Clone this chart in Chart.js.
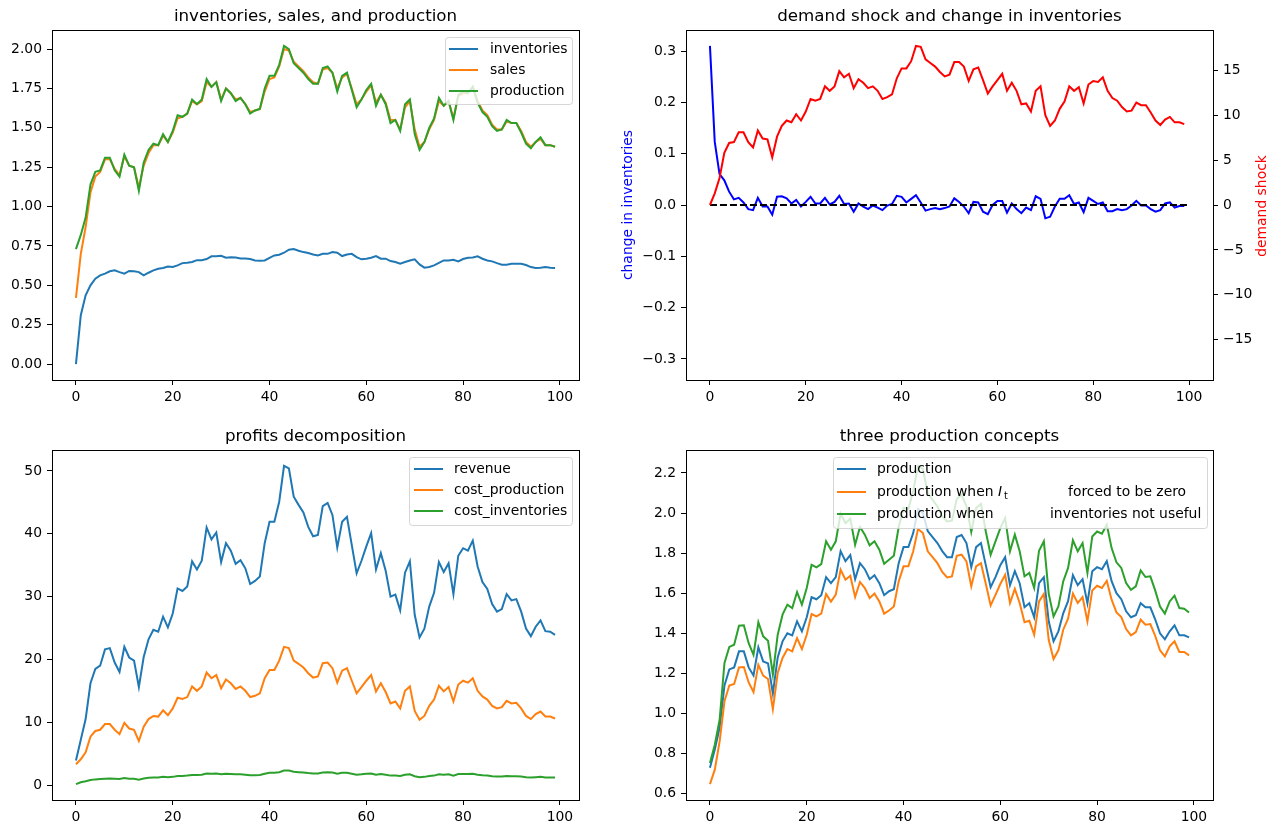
<!DOCTYPE html>
<html>
<head>
<meta charset="utf-8">
<script src="https://cdn.jsdelivr.net/npm/chart.js@4.4.1/dist/chart.umd.min.js"></script>
<style>
html, body { margin: 0; padding: 0; background: #fff; }
#wrap { position: relative; width: 1281px; height: 834px; overflow: hidden; }
.panel { position: absolute; }
</style>
</head>
<body>
<div id="wrap">
  <div class="panel" style="left:0;top:0;width:640px;height:420px"><canvas id="c1"></canvas></div>
  <div class="panel" style="left:600px;top:0;width:681px;height:420px"><canvas id="c2"></canvas></div>
  <div class="panel" style="left:0;top:420px;width:640px;height:414px"><canvas id="c3"></canvas></div>
  <div class="panel" style="left:600px;top:420px;width:681px;height:414px"><canvas id="c4"></canvas></div>
</div>
<script>
// time periods 0..99
const periods = Array.from({ length: 100 }, (_, i) => i);

const inventories = [
  0, 0.31, 0.437, 0.50, 0.542, 0.563, 0.574, 0.589, 0.595, 0.584,
  0.574, 0.591, 0.589, 0.584, 0.563, 0.58, 0.595, 0.605, 0.61, 0.62,
  0.616, 0.627, 0.641, 0.643, 0.648, 0.66, 0.66, 0.667, 0.684, 0.684,
  0.688, 0.675, 0.679, 0.677, 0.671, 0.671, 0.667, 0.658, 0.656, 0.658,
  0.675, 0.69, 0.694, 0.707, 0.726, 0.73, 0.72, 0.711, 0.705, 0.696,
  0.69, 0.70, 0.70, 0.711, 0.707, 0.686, 0.696, 0.70, 0.679, 0.665,
  0.669, 0.675, 0.686, 0.669, 0.669, 0.654, 0.648, 0.637, 0.648, 0.658,
  0.665, 0.633, 0.612, 0.616, 0.627, 0.643, 0.658, 0.658, 0.662, 0.652,
  0.667, 0.675, 0.677, 0.684, 0.669, 0.658, 0.652, 0.641, 0.631, 0.631,
  0.637, 0.637, 0.637, 0.629, 0.616, 0.61, 0.612, 0.616, 0.612, 0.61
];
const sales = [
  0.42, 0.70, 0.87, 1.09, 1.19, 1.22, 1.30, 1.30, 1.24, 1.20,
  1.32, 1.26, 1.25, 1.12, 1.26, 1.34, 1.39, 1.39, 1.45, 1.41,
  1.47, 1.56, 1.57, 1.59, 1.67, 1.65, 1.67, 1.79, 1.76, 1.79,
  1.68, 1.75, 1.72, 1.68, 1.69, 1.65, 1.60, 1.61, 1.62, 1.73,
  1.81, 1.82, 1.89, 2.00, 1.99, 1.92, 1.89, 1.86, 1.82, 1.79,
  1.78, 1.87, 1.88, 1.85, 1.75, 1.82, 1.84, 1.75, 1.65, 1.68,
  1.73, 1.77, 1.66, 1.71, 1.66, 1.55, 1.55, 1.49, 1.63, 1.67,
  1.49, 1.38, 1.41, 1.49, 1.55, 1.67, 1.64, 1.67, 1.56, 1.70,
  1.72, 1.72, 1.76, 1.67, 1.61, 1.58, 1.52, 1.49, 1.49, 1.54,
  1.53, 1.53, 1.48, 1.41, 1.38, 1.41, 1.43, 1.39, 1.39, 1.38
];
const production = [
  0.73, 0.82, 0.93, 1.14, 1.22, 1.23, 1.31, 1.31, 1.23, 1.19,
  1.33, 1.26, 1.25, 1.10, 1.28, 1.36, 1.40, 1.39, 1.46, 1.41,
  1.48, 1.58, 1.57, 1.59, 1.68, 1.65, 1.68, 1.81, 1.76, 1.79,
  1.67, 1.75, 1.72, 1.67, 1.69, 1.65, 1.59, 1.61, 1.62, 1.75,
  1.83, 1.83, 1.90, 2.02, 2.00, 1.91, 1.88, 1.85, 1.81, 1.78,
  1.78, 1.88, 1.89, 1.85, 1.73, 1.83, 1.85, 1.74, 1.63, 1.68,
  1.74, 1.78, 1.64, 1.71, 1.65, 1.53, 1.55, 1.48, 1.65, 1.68,
  1.46, 1.36, 1.41, 1.50, 1.56, 1.69, 1.64, 1.67, 1.55, 1.71,
  1.73, 1.72, 1.76, 1.66, 1.60, 1.57, 1.51, 1.48, 1.49, 1.55,
  1.53, 1.53, 1.47, 1.40, 1.37, 1.41, 1.44, 1.39, 1.39, 1.38
];
const changeInventories = [
  0.31, 0.123, 0.06, 0.048, 0.026, 0.011, 0.014, 0.005, -0.008, -0.01,
  0.014, -0.003, -0.003, -0.019, 0.016, 0.017, 0.013, 0.003, 0.01, -0.003,
  0.006, 0.016, 0.003, 0.003, 0.014, 0.001, 0.006, 0.018, 0.002, 0.003,
  -0.013, 0.003, -0.003, -0.008, -0.001, -0.005, -0.01, -0.001, 0.002, 0.018,
  0.016, 0.005, 0.012, 0.019, 0.005, -0.011, -0.008, -0.006, -0.008, -0.006,
  -0.003, 0.013, 0.006, -0.003, -0.016, 0.006, 0.005, -0.013, -0.018, 0,
  0.008, 0.008, -0.015, 0.003, -0.008, -0.016, -0.005, -0.01, 0.017, 0.012,
  -0.026, -0.023, -0.003, 0.012, 0.012, 0.019, 0.002, 0.005, -0.014, 0.014,
  0.008, 0.002, 0.005, -0.012, -0.012, -0.008, -0.01, -0.008, -0.001, 0.008,
  -0.001, -0.001, -0.008, -0.013, -0.01, 0.003, 0.005, -0.005, -0.002, -0.002
];
const demandShock = [
  0, 1.3, 3.0, 5.8, 6.9, 7.0, 8.1, 8.1, 7.0, 6.4,
  8.3, 7.4, 7.3, 5.3, 7.6, 8.8, 9.4, 9.2, 10.1, 9.4,
  10.4, 11.8, 11.6, 11.8, 13.2, 12.7, 13.2, 14.9, 14.2, 14.6,
  13.0, 14.0, 13.6, 13.0, 13.2, 12.7, 11.8, 12.0, 12.3, 14.1,
  15.2, 15.2, 16.0, 17.7, 17.6, 16.2, 15.8, 15.4, 14.8, 14.3,
  14.5, 15.9, 15.9, 15.4, 13.8, 15.1, 15.3, 13.9, 12.4, 13.2,
  13.9, 14.6, 12.7, 13.6, 12.7, 11.2, 11.3, 10.4, 12.7, 13.2,
  10.0, 8.8, 9.4, 10.7, 11.5, 13.2, 12.7, 13.1, 11.3, 13.4,
  13.8, 13.7, 14.2, 12.7, 11.9, 11.6, 10.9, 10.4, 10.5, 11.4,
  11.1, 11.1, 10.3, 9.4, 8.9, 9.5, 9.8, 9.2, 9.2, 9.0
];
const zeroLineX = [0, 100];
const zeroLineY = [0, 0];

const revenue = [
  3.9, 7.2, 10.5, 16.2, 18.5, 19.0, 21.6, 21.8, 19.5, 18.0,
  22.0, 20.3, 19.8, 15.6, 20.4, 23.2, 24.7, 24.4, 26.8, 25.1,
  27.3, 31.3, 30.9, 31.6, 35.6, 34.3, 35.7, 41.0, 39.1, 40.2,
  35.5, 38.5, 37.3, 35.2, 35.8, 34.5, 32.0, 32.5, 33.2, 38.5,
  41.9, 41.9, 45.1, 50.8, 50.4, 45.9, 44.6, 43.4, 41.1, 39.6,
  39.8, 44.4, 44.9, 43.0, 37.8, 41.9, 42.7, 38.2, 33.7, 35.7,
  38.0, 40.1, 34.3, 36.9, 34.1, 30.0, 30.3, 27.8, 33.8, 35.6,
  27.1, 23.5, 24.9, 28.4, 30.6, 35.5, 33.9, 35.3, 30.4, 36.5,
  37.7, 37.3, 38.9, 34.8, 32.3, 31.2, 28.8, 27.6, 28.0, 30.4,
  29.4, 29.6, 27.6, 24.9, 23.7, 25.2, 26.2, 24.5, 24.4, 23.9
];
const costProduction = [
  3.3, 4.1, 5.2, 7.7, 8.6, 8.8, 9.7, 9.7, 8.8, 8.1,
  9.9, 9.0, 8.8, 7.0, 9.3, 10.5, 11.0, 10.9, 11.9, 11.1,
  12.2, 13.9, 13.7, 14.0, 15.7, 15.0, 15.7, 17.9, 17.0, 17.5,
  15.4, 16.8, 16.2, 15.3, 15.7, 15.0, 14.0, 14.2, 14.6, 17.0,
  18.3, 18.3, 19.8, 22.0, 21.8, 19.8, 19.3, 18.7, 17.8, 17.1,
  17.3, 19.4, 19.5, 18.6, 16.3, 18.2, 18.6, 16.6, 14.6, 15.6,
  16.6, 17.5, 14.9, 16.2, 14.8, 13.0, 13.3, 12.2, 15.0, 15.7,
  11.8, 10.4, 11.0, 12.6, 13.6, 15.8, 14.9, 15.6, 13.3, 16.0,
  16.6, 16.3, 17.0, 15.0, 14.1, 13.6, 12.6, 12.2, 12.4, 13.4,
  13.0, 13.1, 12.2, 11.0, 10.5, 11.3, 11.7, 10.9, 10.9, 10.6
];
const costInventories = [
  0.15, 0.45, 0.6, 0.8, 0.9, 0.95, 1.0, 1.05, 1.0, 0.95,
  1.1, 1.0, 1.0, 0.85, 1.05, 1.15, 1.2, 1.2, 1.3, 1.25,
  1.3, 1.45, 1.45, 1.5, 1.6, 1.6, 1.65, 1.85, 1.8, 1.85,
  1.7, 1.8, 1.75, 1.7, 1.7, 1.65, 1.55, 1.55, 1.6, 1.8,
  1.95, 1.95, 2.05, 2.3, 2.3, 2.1, 2.05, 2.0, 1.9, 1.85,
  1.85, 2.0, 2.05, 2.0, 1.8, 1.95, 1.95, 1.8, 1.65, 1.7,
  1.8, 1.85, 1.65, 1.75, 1.65, 1.5, 1.5, 1.45, 1.65, 1.7,
  1.4, 1.25, 1.3, 1.45, 1.5, 1.7, 1.65, 1.7, 1.5, 1.75,
  1.75, 1.75, 1.8, 1.65, 1.55, 1.5, 1.4, 1.35, 1.35, 1.45,
  1.4, 1.4, 1.35, 1.25, 1.2, 1.25, 1.3, 1.2, 1.2, 1.2
];

const productionZeroInv = [
  0.648, 0.72, 0.861, 1.061, 1.14, 1.147, 1.23, 1.232, 1.155, 1.107,
  1.243, 1.189, 1.172, 1.022, 1.202, 1.277, 1.322, 1.31, 1.376, 1.322,
  1.393, 1.496, 1.484, 1.498, 1.596, 1.558, 1.593, 1.717, 1.667, 1.687,
  1.581, 1.656, 1.626, 1.576, 1.598, 1.559, 1.498, 1.514, 1.534, 1.659,
  1.734, 1.734, 1.809, 1.92, 1.9, 1.809, 1.78, 1.75, 1.706, 1.679,
  1.684, 1.787, 1.792, 1.759, 1.634, 1.734, 1.75, 1.647, 1.539, 1.592,
  1.646, 1.692, 1.551, 1.622, 1.551, 1.455, 1.463, 1.393, 1.559, 1.596,
  1.368, 1.272, 1.315, 1.418, 1.473, 1.598, 1.551, 1.581, 1.46, 1.614,
  1.637, 1.626, 1.662, 1.568, 1.504, 1.481, 1.421, 1.39, 1.406, 1.468,
  1.443, 1.446, 1.388, 1.315, 1.285, 1.335, 1.36, 1.307, 1.307, 1.29
];
const productionNotUseful = [
  0.753, 0.844, 0.969, 1.252, 1.332, 1.343, 1.438, 1.44, 1.351, 1.293,
  1.455, 1.385, 1.363, 1.194, 1.393, 1.493, 1.543, 1.526, 1.606, 1.543,
  1.626, 1.742, 1.729, 1.745, 1.859, 1.817, 1.859, 1.997, 1.95, 1.972,
  1.842, 1.93, 1.892, 1.839, 1.859, 1.817, 1.747, 1.767, 1.787, 1.93,
  2.025, 2.02, 2.11, 2.235, 2.22, 2.1, 2.066, 2.033, 1.983, 1.958,
  1.962, 2.07, 2.091, 2.033, 1.905, 2.025, 2.046, 1.908, 1.792, 1.859,
  1.925, 1.975, 1.809, 1.892, 1.809, 1.684, 1.701, 1.626, 1.812, 1.859,
  1.598, 1.484, 1.534, 1.659, 1.726, 1.864, 1.809, 1.85, 1.701, 1.883,
  1.908, 1.897, 1.942, 1.825, 1.754, 1.726, 1.651, 1.617, 1.634, 1.714,
  1.681, 1.684, 1.614, 1.534, 1.498, 1.559, 1.588, 1.526, 1.523, 1.504
];

// tick labels
const xTicks = [0, 20, 40, 60, 80, 100];
const ticksStocks = [0, 0.25, 0.5, 0.75, 1.0, 1.25, 1.5, 1.75, 2.0];
const ticksChange = [-0.3, -0.2, -0.1, 0, 0.1, 0.2, 0.3];
const ticksShock = [-15, -10, -5, 0, 5, 10, 15];
const ticksProfits = [0, 10, 20, 30, 40, 50];
const ticksConcepts = [0.6, 0.8, 1.0, 1.2, 1.4, 1.6, 1.8, 2.0, 2.2];

const C_BLUE = '#1f77b4', C_ORANGE = '#ff7f0e', C_GREEN = '#2ca02c';
const FONT = 'DejaVu Sans';
const FS = 13.9;

Chart.defaults.font.family = FONT;
Chart.defaults.font.size = FS;
Chart.defaults.color = '#000';

// matplotlib-like 5% margins
function padRange(arrays) {
  const all = arrays.flat();
  const lo = Math.min(...all), hi = Math.max(...all);
  const p = (hi - lo) * 0.05;
  return [lo - p, hi + p];
}
function symRange(arr) {
  const m = Math.max(...arr.map(Math.abs)) * 1.1;
  return [-m, m];
}
const pts = ys => ys.map((y, i) => ({ x: periods[i], y }));

function line(label, data, color, order, extra) {
  return Object.assign({
    label, data, borderColor: color, backgroundColor: color,
    borderWidth: 2, pointRadius: 0, tension: 0, fill: false, order
  }, extra || {});
}

function fmt(dec) {
  return v => (v < 0 ? '\u2212' : '') + Math.abs(v).toFixed(dec);
}

function xScale(range, h) {
  return {
    type: 'linear', min: range[0], max: range[1],
    afterBuildTicks: s => { s.ticks = xTicks.map(v => ({ value: v })); },
    ticks: { autoSkip: false, maxRotation: 0, padding: 4, callback: v => String(v) },
    grid: { drawOnChartArea: false, drawTicks: true, tickLength: 5, color: '#000' },
    border: { display: false },
    afterFit: s => { s.height = h; }
  };
}
function yScale(range, ticks, dec, w, pos) {
  return {
    type: 'linear', position: pos || 'left', min: range[0], max: range[1],
    afterBuildTicks: s => { s.ticks = ticks.map(v => ({ value: v })); },
    ticks: { autoSkip: false, padding: 5, callback: fmt(dec) },
    grid: { drawOnChartArea: false, drawTicks: true, tickLength: 5, color: '#000' },
    border: { display: false },
    afterFit: s => { s.width = w; }
  };
}

// titles, frames, axis labels and legends per canvas
const decorSpecs = {
  c1: {
    title: 'inventories, sales, and production',
    legend: { x: 445, y: 37, w: 127, h: 67, hx0: 449, hx1: 478, rows: [
      { y: 49, color: C_BLUE, parts: [{ t: 'inventories', x: 490 }] },
      { y: 70, color: C_ORANGE, parts: [{ t: 'sales', x: 490 }] },
      { y: 91, color: C_GREEN, parts: [{ t: 'production', x: 490 }] }
    ] }
  },
  c2: {
    title: 'demand shock and change in inventories',
    yLabels: [
      { text: 'change in inventories', x: 28, y: 205, color: '#0000ff' },
      { text: 'demand shock', x: 662, y: 206, color: '#ff0000' }
    ]
  },
  c3: {
    title: 'profits decomposition',
    legend: { x: 409, y: 37, w: 163, h: 68, hx0: 414, hx1: 443, rows: [
      { y: 49, color: C_BLUE, parts: [{ t: 'revenue', x: 454 }] },
      { y: 70, color: C_ORANGE, parts: [{ t: 'cost_production', x: 454 }] },
      { y: 91, color: C_GREEN, parts: [{ t: 'cost_inventories', x: 454 }] }
    ] }
  },
  c4: {
    title: 'three production concepts',
    legend: { x: 233, y: 37, w: 374, h: 71, hx0: 237, hx1: 266, rows: [
      { y: 49, color: C_BLUE, parts: [{ t: 'production', x: 277 }] },
      { y: 72, color: C_ORANGE, parts: [
        { t: 'production when', x: 277 },
        { t: 'I', x: 398, italic: true },
        { t: 't', x: 404, sub: true },
        { t: 'forced to be zero', x: 468 }
      ] },
      { y: 94, color: C_GREEN, parts: [
        { t: 'production when', x: 277 },
        { t: 'inventories not useful', x: 450 }
      ] }
    ] }
  }
};

const decor = {
  id: 'decor',
  afterDatasetsDraw(chart) {
    const spec = decorSpecs[chart.canvas.id];
    if (!spec) return;
    const ctx = chart.ctx, a = chart.chartArea;
    ctx.save();
    // frame
    ctx.strokeStyle = '#000';
    ctx.lineWidth = 1;
    ctx.strokeRect(Math.round(a.left) + 0.5, Math.round(a.top) + 0.5,
      Math.round(a.right - a.left), Math.round(a.bottom - a.top));
    // title
    ctx.fillStyle = '#000';
    ctx.font = '16.7px ' + FONT;
    ctx.textAlign = 'center';
    ctx.textBaseline = 'middle';
    ctx.fillText(spec.title, (a.left + a.right) / 2, a.top - 13);
    // rotated axis labels
    (spec.yLabels || []).forEach(l => {
      ctx.save();
      ctx.translate(l.x, l.y);
      ctx.rotate(-Math.PI / 2);
      ctx.fillStyle = l.color;
      ctx.font = FS + 'px ' + FONT;
      ctx.fillText(l.text, 0, 0);
      ctx.restore();
    });
    // legend
    const L = spec.legend;
    if (L) {
      ctx.fillStyle = 'rgba(255,255,255,0.8)';
      ctx.strokeStyle = 'rgba(204,204,204,0.8)';
      ctx.lineWidth = 1;
      ctx.beginPath();
      if (ctx.roundRect) ctx.roundRect(L.x + 0.5, L.y + 0.5, L.w, L.h, 3);
      else ctx.rect(L.x + 0.5, L.y + 0.5, L.w, L.h);
      ctx.fill();
      ctx.stroke();
      ctx.textAlign = 'left';
      ctx.textBaseline = 'middle';
      L.rows.forEach(r => {
        ctx.strokeStyle = r.color;
        ctx.lineWidth = 2;
        ctx.beginPath();
        ctx.moveTo(L.hx0, r.y);
        ctx.lineTo(L.hx1, r.y);
        ctx.stroke();
        ctx.fillStyle = '#000';
        r.parts.forEach(p => {
          if (p.italic) ctx.font = 'italic ' + FS + 'px ' + FONT;
          else if (p.sub) ctx.font = '9.7px ' + FONT;
          else ctx.font = FS + 'px ' + FONT;
          ctx.fillText(p.t, p.x, r.y + (p.sub ? 4 : 0));
        });
      });
    }
    ctx.restore();
  }
};

function baseOptions(scales, padRight) {
  return {
    responsive: true, maintainAspectRatio: false, animation: false,
    devicePixelRatio: 1, events: [],
    layout: { padding: { top: 30, right: padRight, left: 0, bottom: 0 } },
    plugins: { legend: { display: false }, tooltip: { enabled: false }, title: { display: false } },
    scales
  };
}

// inventories, sales, and production
new Chart(document.getElementById('c1'), {
  type: 'line',
  data: { datasets: [
    line('inventories', pts(inventories), C_BLUE, 2),
    line('sales', pts(sales), C_ORANGE, 1),
    line('production', pts(production), C_GREEN, 0)
  ] },
  options: baseOptions({
    x: xScale(padRange([periods]), 40),
    y: yScale(padRange([inventories, sales, production]), ticksStocks, 2, 52)
  }, 61),
  plugins: [decor]
});

// demand shock and change in inventories
new Chart(document.getElementById('c2'), {
  type: 'line',
  data: { datasets: [
    line('change in inventories', pts(changeInventories), '#0000ff', 2, { yAxisID: 'y' }),
    line('zero', zeroLineX.map((x, i) => ({ x, y: zeroLineY[i] })), '#000', 1, { yAxisID: 'y', borderDash: [7, 3] }),
    line('demand shock', pts(demandShock), '#ff0000', 0, { yAxisID: 'y2' })
  ] },
  options: baseOptions({
    x: xScale(padRange([zeroLineX]), 40),
    y: yScale(symRange(changeInventories), ticksChange, 1, 86, 'left'),
    y2: yScale(symRange(demandShock), ticksShock, 0, 68, 'right')
  }, 0),
  plugins: [decor]
});

// profits decomposition
new Chart(document.getElementById('c3'), {
  type: 'line',
  data: { datasets: [
    line('revenue', pts(revenue), C_BLUE, 2),
    line('cost_production', pts(costProduction), C_ORANGE, 1),
    line('cost_inventories', pts(costInventories), C_GREEN, 0)
  ] },
  options: baseOptions({
    x: xScale(padRange([periods]), 34),
    y: yScale(padRange([revenue, costProduction, costInventories]), ticksProfits, 0, 52)
  }, 61),
  plugins: [decor]
});

// three production concepts
new Chart(document.getElementById('c4'), {
  type: 'line',
  data: { datasets: [
    line('production', pts(production), C_BLUE, 2),
    line('production when I_t forced to be zero', pts(productionZeroInv), C_ORANGE, 1),
    line('production when inventories not useful', pts(productionNotUseful), C_GREEN, 0)
  ] },
  options: baseOptions({
    x: xScale(padRange([periods]), 34),
    y: yScale(padRange([production, productionZeroInv, productionNotUseful]), ticksConcepts, 1, 86)
  }, 68),
  plugins: [decor]
});
</script>
</body>
</html>
